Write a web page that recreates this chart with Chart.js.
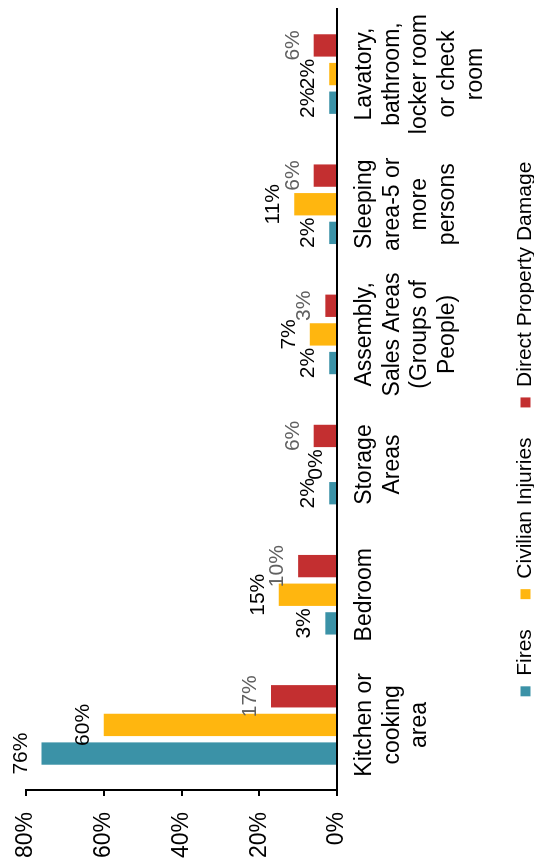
<!DOCTYPE html>
<html>
<head>
<meta charset="utf-8">
<script src="https://cdn.jsdelivr.net/npm/chart.js@4.4.0/dist/chart.umd.min.js"></script>
<style>
  html, body { margin: 0; padding: 0; background: #fff; overflow: hidden; }
  body { width: 534px; height: 867px; position: relative; }
  /* chart is drawn landscape, then turned so it reads bottom to top */
  #wrap {
    position: absolute; left: 0; top: 0;
    width: 867px; height: 534px;
    transform-origin: top left;
    transform: translate(0, 867px) rotate(-90deg);
  }
</style>
</head>
<body>
<div id="wrap"><canvas id="chart" width="867" height="534"></canvas></div>
<script>
// categories (multi-line labels)
const categories = [
    ['Kitchen or', 'cooking', 'area'],
    ['Bedroom'],
    ['Storage', 'Areas'],
    ['Assembly,', 'Sales Areas', '(Groups of', 'People)'],
    ['Sleeping', 'area-5 or', 'more', 'persons'],
    ['Lavatory,', 'bathroom,', 'locker room', 'or check', 'room']
];

// percentages
const fires = [76, 3, 2, 2, 2, 2];
const civilianInjuries = [60, 15, 0, 7, 11, 2];
const propertyDamage = [17, 10, 6, 3, 6, 6];

const yTicks = [0, 20, 40, 60, 80];

const FONT = '"Liberation Sans", Arial, sans-serif';

// Simple value labels drawn above each bar
const barLabels = {
    id: 'barLabels',
    afterDatasetsDraw(chart) {
        const ctx = chart.ctx;
        ctx.save();
        ctx.font = '21px ' + FONT;
        ctx.textAlign = 'center';
        ctx.textBaseline = 'alphabetic';
        chart.data.datasets.forEach((ds, i) => {
            const meta = chart.getDatasetMeta(i);
            ctx.fillStyle = ds.labelColor;
            meta.data.forEach((bar, j) => {
                ctx.fillText(ds.data[j] + '%', bar.x, bar.y - 15);
            });
        });
        ctx.restore();
    }
};

const ctx = document.getElementById('chart').getContext('2d');

new Chart(ctx, {
    type: 'bar',
    data: {
        labels: categories,
        datasets: [
            {
                label: 'Fires',
                data: fires,
                backgroundColor: '#3b92a7',
                labelColor: '#000000',
                borderWidth: 0
            },
            {
                label: 'Civilian Injuries',
                data: civilianInjuries,
                backgroundColor: '#ffb60f',
                labelColor: '#000000',
                borderWidth: 0
            },
            {
                label: 'Direct Property Damage',
                data: propertyDamage,
                backgroundColor: '#c32f30',
                labelColor: '#606060',
                borderWidth: 0
            }
        ]
    },
    plugins: [barLabels],
    options: {
        responsive: false,
        animation: false,
        devicePixelRatio: 1,
        categoryPercentage: 0.66,
        barPercentage: 0.78,
        layout: {
            padding: { left: 9, right: 0, top: 26, bottom: 0 }
        },
        plugins: {
            tooltip: { enabled: false },
            legend: {
                position: 'bottom',
                maxHeight: 49,
                labels: {
                    font: { family: FONT, size: 21 },
                    color: '#000',
                    boxWidth: 10,
                    boxHeight: 10,
                    padding: 30
                }
            }
        },
        scales: {
            x: {
                grid: { display: false, drawTicks: false },
                border: { display: true, color: '#000', width: 2 },
                ticks: {
                    font: { family: FONT, size: 23, lineHeight: 1.2 },
                    color: '#000',
                    padding: 14,
                    maxRotation: 0,
                    autoSkip: false
                },
                // let the long labels run into the legend's padding
                afterFit: scale => { scale.height = 148; }
            },
            y: {
                min: 0,
                max: 80,
                afterBuildTicks: axis => {
                    axis.ticks = yTicks.map(v => ({ value: v }));
                },
                grid: {
                    display: true,
                    drawOnChartArea: false,
                    drawTicks: true,
                    tickLength: 6,
                    color: '#000',
                    lineWidth: 2
                },
                border: { display: true, color: '#000', width: 2 },
                ticks: {
                    font: { family: FONT, size: 23 },
                    color: '#000',
                    padding: 16,
                    callback: v => v + '%'
                },
                // label + padding + tick mark only; top set by layout padding
                afterFit: scale => {
                    scale.width = 68;
                    scale.paddingTop = 0;
                }
            }
        }
    }
});
</script>
</body>
</html>
